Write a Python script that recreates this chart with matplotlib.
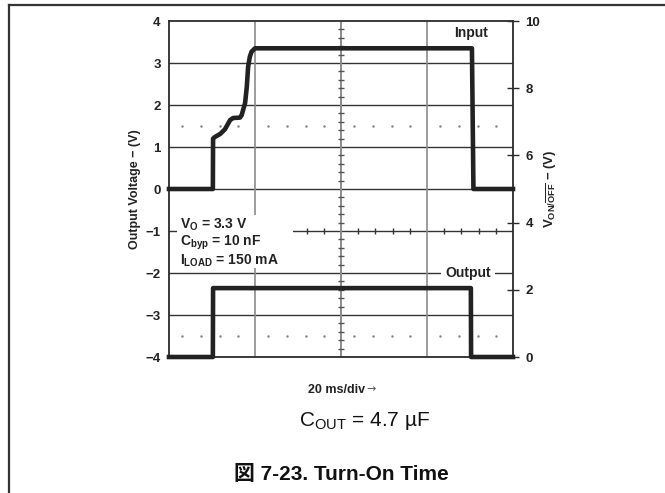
import matplotlib
matplotlib.use("Agg")
import matplotlib.pyplot as plt
from matplotlib.lines import Line2D
from matplotlib.patches import Rectangle
import numpy as np

plt.rcParams['font.family'] = ['Liberation Sans', 'Noto Sans CJK JP', 'DejaVu Sans']
plt.rcParams['mathtext.fontset'] = 'custom'
plt.rcParams['mathtext.rm'] = 'Liberation Sans'
plt.rcParams['mathtext.bf'] = 'Liberation Sans:bold'
plt.rcParams['mathtext.it'] = 'Liberation Sans:italic'

# time in ms (20 ms/div, 4 divisions shown)
t_top = [0, 10.2, 10.25, 10.7, 11.9, 13.0, 14.2, 14.9, 16.5, 16.9, 17.7, 18.1,
         18.4, 18.8, 19.2, 20.0, 70.45, 70.8, 80]
v_top = [0, 0, 1.2, 1.24, 1.31, 1.42, 1.64, 1.69, 1.70, 1.76, 2.05, 2.44,
         2.91, 3.15, 3.27, 3.35, 3.35, 0, 0]

t_bot = [0, 10.2, 10.25, 70.2, 70.25, 80]
v_bot = [0, 0, 2.05, 2.05, 0, 0]

left_ticks = [4, 3, 2, 1, 0, -1, -2, -3, -4]
right_ticks = [0, 2, 4, 6, 8, 10]

cond_lines = ['V$_{\\mathbf{O}}$ = 3.3 V', 'C$_{\\mathbf{byp}}$ = 10 nF', 'I$_{\\mathbf{LOAD}}$ = 150 mA']

fig = plt.figure(figsize=(6.65, 4.93), dpi=100)
ax = fig.add_axes([169 / 665, 1 - 357 / 493, 344 / 665, 336 / 493])
ax.set_xlim(0, 80)
ax.set_ylim(-4, 4)
ax2 = ax.twinx()
ax2.set_ylim(0, 10)

dark = '#2b2b2b'
for sp in ax.spines.values():
    sp.set_color(dark)
    sp.set_linewidth(1.3)
ax2.spines[:].set_visible(False)

# grid
for y in [3, 2, 1, 0, -1, -2, -3]:
    ax.axhline(y, color='#333333', lw=1.0, zorder=1)
for x in [20, 60]:
    ax.axvline(x, color='#8c8c8c', lw=1.2, zorder=1)
ax.axvline(40, color='#8c8c8c', lw=1.4, zorder=1)

# center graticule ticks
xt = [x for x in np.arange(0, 80.1, 4) if x % 20 != 0]
ax.plot(xt, [-1] * len(xt), ls='', marker='|', ms=5, mew=1.0, color='#333333', zorder=1)
yt = [y for y in np.arange(-4, 4.01, 0.2) if abs(y - round(y)) > 0.01]
ax.plot([40] * len(yt), yt, ls='', marker='_', ms=5, mew=1.0, color='#555555', zorder=1)

# dotted rows
dx = []
for d in range(4):
    for off in [0.15, 0.37, 0.59, 0.80]:
        dx.append((d + off) * 20)
ax.plot(dx, [1.5] * len(dx), ls='', marker='.', ms=1.6, color='#888888', zorder=1)
ax.plot(dx, [-3.5] * len(dx), ls='', marker='.', ms=1.6, color='#888888', zorder=1)

# traces
ax.plot(t_top, v_top, color='#222222', lw=3.3, solid_joinstyle='round', clip_on=False, zorder=5)
ax2.plot(t_bot, v_bot, color='#222222', lw=3.3, solid_joinstyle='round', clip_on=False, zorder=5)

# axes ticks / labels
ax.set_xticks([])
ax.set_yticks(left_ticks)
ax.set_yticklabels(['4', '3', '2', '1', '0', '−1', '−2', '−3', '−4'],
                   fontweight='bold', fontsize=9.5, color='#222222')
ax.tick_params(axis='y', length=0, pad=6)
ax2.set_yticks(right_ticks)
ax2.set_yticklabels([str(v) for v in right_ticks], fontweight='bold', fontsize=9.5, color='#222222')
ax2.tick_params(axis='y', direction='inout', length=8, width=1.0, color=dark, pad=5)

ax.set_ylabel('Output Voltage − (V)', fontweight='bold', fontsize=9, color='#222222', labelpad=3)
ax2.set_ylabel(r'V$_{\mathbf{ON/}\overline{\mathbf{OFF}}}$ − (V)', fontweight='bold',
               fontsize=9.5, color='#222222', labelpad=1)

# conditions box (white area hides the graticule behind it)
ax.add_patch(Rectangle((1.9, -1.88), 27.0, 1.26, facecolor='white', edgecolor='none', zorder=4))
for i, s in enumerate(cond_lines):
    ax.text(2.5, -0.86 - 0.42 * i, s, fontweight='bold', fontsize=10, color='#222222',
            va='center', ha='left', zorder=6)

ax.text(70.3, 3.72, 'Input', fontweight='bold', fontsize=10, color='#222222', ha='center', va='center', zorder=6)
ax.text(69.5, -2.0, 'Output', fontweight='bold', fontsize=10, color='#222222', ha='center', va='center',
        bbox=dict(facecolor='white', edgecolor='none', pad=3), zorder=6)

fig.text(308 / 665, 1 - 390 / 493, '20 ms/div', fontweight='bold', fontsize=9, color='#222222',
         ha='left', va='center')
fig.text(366 / 665, 1 - 389 / 493, '→', fontsize=8, family='DejaVu Sans', color='#555555',
         ha='left', va='center')
fig.text(365 / 665, 1 - 421 / 493, 'C$_{\\mathrm{OUT}}$ = 4.7 µF', fontsize=15, color='#111111',
         ha='center', va='center')
fig.text(341 / 665, 1 - 475 / 493, '図 7-23. Turn-On Time', fontweight='bold', fontsize=15,
         color='#111111', ha='center', va='center')

# page frame
fig.add_artist(Line2D([8.5 / 665, 1], [1 - 5 / 493, 1 - 5 / 493], color='#333333', lw=1.6))
fig.add_artist(Line2D([8.5 / 665, 8.5 / 665], [0, 1 - 5 / 493], color='#333333', lw=1.6))

fig.savefig('out.png', dpi=100)
